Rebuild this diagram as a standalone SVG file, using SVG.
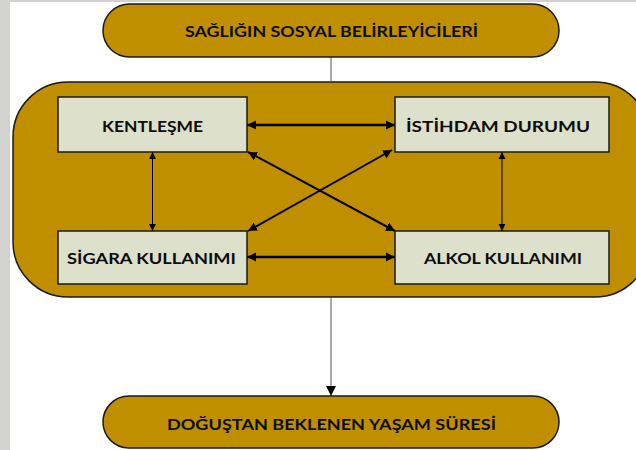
<svg xmlns="http://www.w3.org/2000/svg" width="636" height="450" viewBox="0 0 636 450">
  <defs>
    <style>
      .pill { fill: #BF8F00; stroke: #1a1a1a; stroke-width: 1.5; }
      .frame { fill: #BF8F00; stroke: #1a1a1a; stroke-width: 1.5; }
      .box { fill: #DDE0CB; stroke: #1a1a1a; stroke-width: 1.5; }
      .lbl { font-family: Lato, "Open Sans", "Liberation Sans", sans-serif; font-weight: bold; font-size: 16px; fill: #0d0d0d; text-anchor: middle; }
      .thick { stroke: #000; stroke-width: 2.5; fill: none; }
      .mid { stroke: #000; stroke-width: 2; fill: none; }
      .thin { stroke: #000; stroke-width: 1; fill: none; }
      .link { stroke: #555; stroke-width: 1; fill: none; }
    </style>
    <marker id="ah" viewBox="0 0 10 10" refX="10" refY="5" markerWidth="9" markerHeight="10" markerUnits="userSpaceOnUse" orient="auto-start-reverse">
      <path d="M0,0 L10,5 L0,10 z" fill="#000"/>
    </marker>
    <marker id="ahs" viewBox="0 0 10 10" refX="10" refY="5" markerWidth="7" markerHeight="10" markerUnits="userSpaceOnUse" orient="auto-start-reverse">
      <path d="M0,0 L10,5 L0,10 z" fill="#000"/>
    </marker>
    <marker id="ahb" viewBox="0 0 10 10" refX="10" refY="5" markerWidth="10" markerHeight="17" markerUnits="userSpaceOnUse" orient="auto">
      <path d="M0,0 L10,5 L0,10 z" fill="#000"/>
    </marker>
  </defs>

  <rect x="0" y="0" width="636" height="450" fill="#d2d2d0"/>
  <rect x="10" y="2" width="626" height="448" fill="#ffffff"/>

  <g id="frame">
    <rect class="frame" x="13" y="82" width="637" height="215" rx="55" ry="55"/>
  </g>

  <g id="connectors">
    <line class="link" x1="331" y1="57" x2="331" y2="82"/>
    <line class="link" x1="331" y1="297" x2="331" y2="396" marker-end="url(#ahb)"/>
    <line class="thick" x1="247" y1="125" x2="395" y2="125" marker-start="url(#ah)" marker-end="url(#ah)"/>
    <line class="thick" x1="247" y1="257" x2="395" y2="257" marker-start="url(#ah)" marker-end="url(#ah)"/>
    <line class="thin" x1="152.5" y1="152" x2="152.5" y2="231" marker-start="url(#ahs)" marker-end="url(#ahs)"/>
    <line class="thin" x1="502" y1="152" x2="502" y2="231" marker-start="url(#ahs)" marker-end="url(#ahs)"/>
    <line class="mid" x1="248" y1="152" x2="395" y2="231" marker-start="url(#ah)" marker-end="url(#ah)"/>
    <line class="mid" x1="248" y1="231" x2="392" y2="150" marker-start="url(#ah)" marker-end="url(#ah)"/>
  </g>

  <g id="top">
    <rect class="pill" x="103" y="4" width="456" height="53" rx="26.5" ry="26.5"/>
    <text class="lbl" x="331.5" y="37" textLength="293" lengthAdjust="spacingAndGlyphs">SAĞLIĞIN SOSYAL BELİRLEYİCİLERİ</text>
  </g>

  <g id="kentlesme">
    <rect class="box" x="58" y="97" width="189" height="55"/>
    <text class="lbl" x="152.5" y="132" textLength="101" lengthAdjust="spacingAndGlyphs">KENTLEŞME</text>
  </g>

  <g id="istihdam">
    <rect class="box" x="395" y="97" width="214" height="55"/>
    <text class="lbl" x="498" y="132" textLength="184" lengthAdjust="spacingAndGlyphs">İSTİHDAM DURUMU</text>
  </g>

  <g id="sigara">
    <rect class="box" x="58" y="231" width="189" height="53"/>
    <text class="lbl" x="151.5" y="264" textLength="169" lengthAdjust="spacingAndGlyphs">SİGARA KULLANIMI</text>
  </g>

  <g id="alkol">
    <rect class="box" x="395" y="231" width="214" height="53"/>
    <text class="lbl" x="503" y="264" textLength="158" lengthAdjust="spacingAndGlyphs">ALKOL KULLANIMI</text>
  </g>

  <g id="bottom">
    <rect class="pill" x="103" y="396" width="456" height="52" rx="26" ry="26"/>
    <text class="lbl" x="331.5" y="430" textLength="329" lengthAdjust="spacingAndGlyphs">DOĞUŞTAN BEKLENEN YAŞAM SÜRESİ</text>
  </g>
</svg>
